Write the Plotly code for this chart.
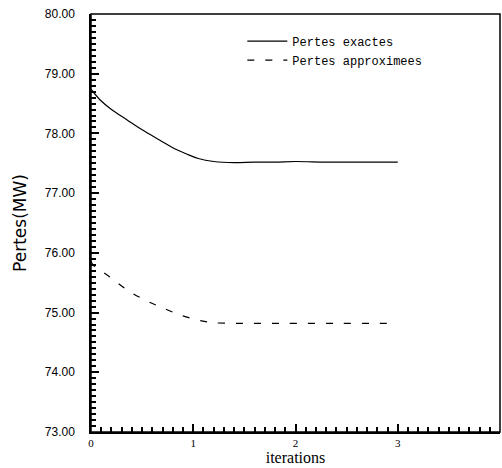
import plotly.graph_objects as go

# Exact losses
iter_exact = [0.0, 0.09, 0.2, 0.35, 0.5, 0.67, 0.8, 0.93, 1.05, 1.2, 1.4, 1.6, 1.8, 2.0, 2.3, 2.6, 3.0]
pertes_exactes = [78.74, 78.56, 78.40, 78.23, 78.06, 77.89, 77.76, 77.66, 77.58, 77.53, 77.51, 77.52, 77.52, 77.53, 77.52, 77.52, 77.52]

# Approximate losses
iter_approx = [0.0, 0.02, 0.18, 0.37, 0.54, 0.7, 0.89, 1.08, 1.2, 1.4, 1.6, 1.8, 2.0, 2.4, 2.8, 2.95]
pertes_approx = [75.86, 75.80, 75.60, 75.36, 75.20, 75.08, 74.95, 74.86, 74.83, 74.82, 74.82, 74.82, 74.82, 74.82, 74.82, 74.82]

x_range = [0, 4]
y_range = [73, 80]

fig = go.Figure()
fig.add_trace(go.Scatter(x=iter_exact, y=pertes_exactes, mode="lines", name="Pertes exactes",
                         line=dict(color="black", width=1.2, shape="spline")))
fig.add_trace(go.Scatter(x=iter_approx, y=pertes_approx, mode="lines", name="Pertes approximees",
                         line=dict(color="black", width=1.2, dash="7px,11px", shape="spline")))

# frame around the plotting area (paper coordinates)
fig.add_shape(type="rect", xref="paper", yref="paper", x0=0, x1=1, y0=0, y1=1,
              line=dict(color="black", width=1.5), layer="above")

fig.update_layout(
    width=502, height=468,
    margin=dict(l=91, r=2, t=14, b=36),
    paper_bgcolor="white", plot_bgcolor="white",
    font=dict(family="Liberation Serif", color="black"),
    showlegend=True,
    legend=dict(x=0.37, y=0.97, xanchor="left", yanchor="top",
                bgcolor="rgba(0,0,0,0)", font=dict(family="Liberation Mono", size=12),
                tracegroupgap=0, itemwidth=40),
    xaxis=dict(range=x_range, dtick=1, tick0=0, tickformat="d",
               showline=True, linecolor="black", linewidth=1.5,
               showgrid=False, zeroline=False,
               ticks="inside", ticklen=8, tickwidth=2, tickcolor="black",
               minor=dict(ticks="inside", ticklen=5, tickwidth=1.5, tickcolor="black", dtick=0.1),
               tickfont=dict(size=11, family="Liberation Serif"),
               title=dict(text="iterations", font=dict(size=16, family="Liberation Serif"), standoff=0)),
    yaxis=dict(range=y_range, dtick=1, tick0=73, tickformat=".2f",
               showline=True, linecolor="black", linewidth=1.5,
               showgrid=False, zeroline=False,
               ticks="inside", ticklen=8, tickwidth=2, tickcolor="black",
               minor=dict(ticks="inside", ticklen=5, tickwidth=1.5, tickcolor="black", dtick=0.1),
               tickfont=dict(size=12, family="Liberation Sans"),
               ticklabelstandoff=12,
               title=dict(text="Pertes(MW)", font=dict(size=17, family="DejaVu Sans"), standoff=14)),
)

fig.write_html("out.html")
